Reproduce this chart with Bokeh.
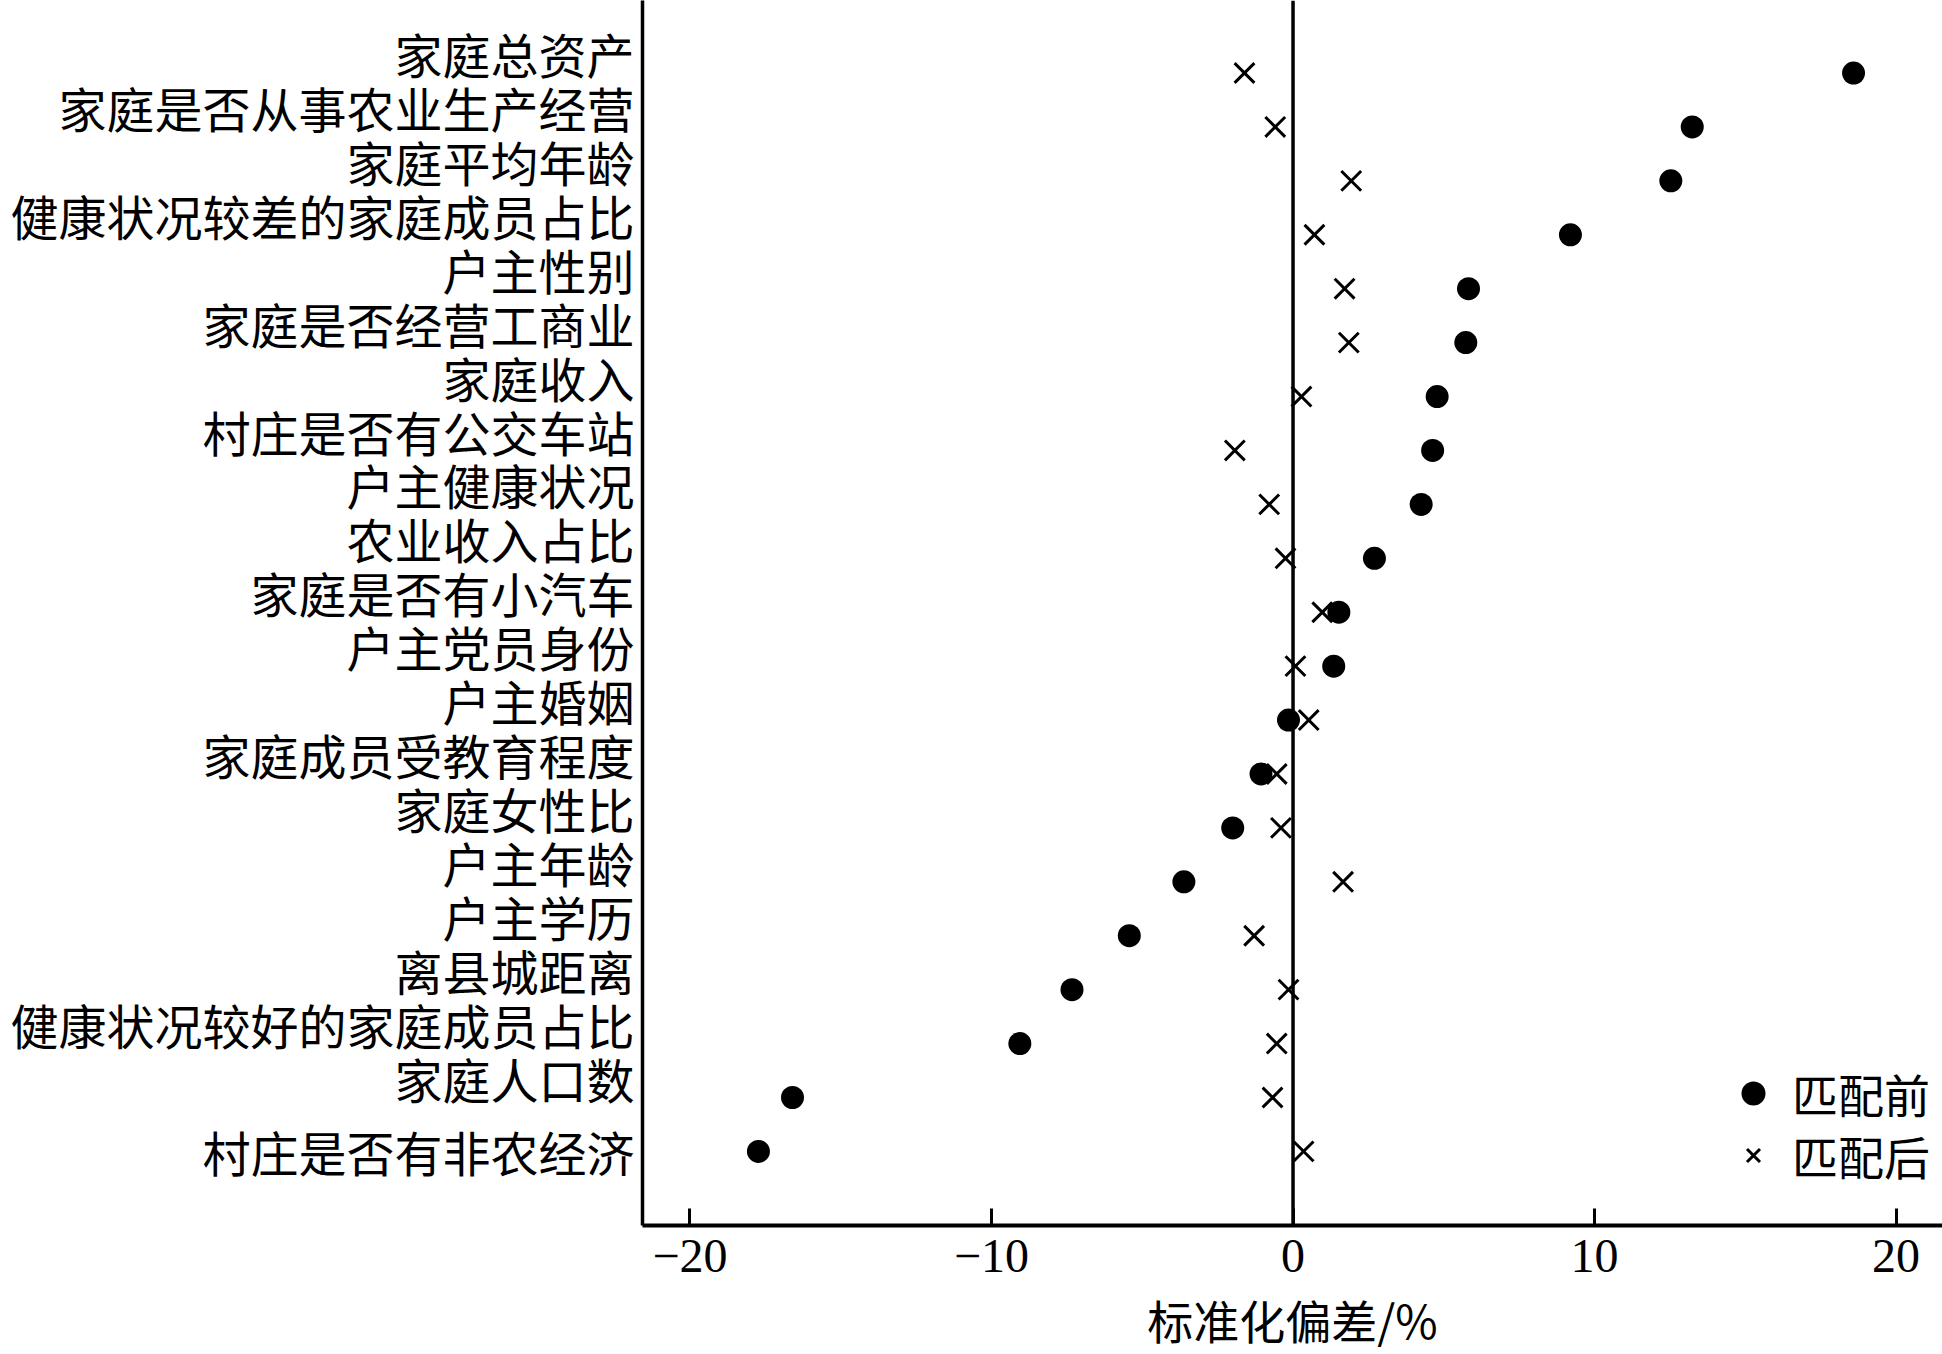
from bokeh.plotting import figure
from bokeh.models import (ColumnDataSource, Range1d, FixedTicker, Span, Legend,
                          LegendItem)
from bokeh.embed import file_html
from bokeh.resources import INLINE

# ---- data ----
labels = ["家庭总资产", "家庭是否从事农业生产经营", "家庭平均年龄", "健康状况较差的家庭成员占比",
          "户主性别", "家庭是否经营工商业", "家庭收入", "村庄是否有公交车站", "户主健康状况",
          "农业收入占比", "家庭是否有小汽车", "户主党员身份", "户主婚姻", "家庭成员受教育程度",
          "家庭女性比", "户主年龄", "户主学历", "离县城距离", "健康状况较好的家庭成员占比",
          "家庭人口数", "村庄是否有非农经济"]
before = [18.59, 13.24, 12.53, 9.20, 5.82, 5.73, 4.78, 4.63, 4.25, 2.70, 1.52,
          1.35, -0.15, -1.06, -2.00, -3.62, -5.43, -7.33, -9.06, -16.60, -17.73]
after = [-1.61, -0.59, 1.93, 0.71, 1.71, 1.85, 0.28, -1.93, -0.79, -0.25, 0.97,
         0.08, 0.52, -0.54, -0.40, 1.66, -1.29, -0.15, -0.54, -0.68, 0.35]
x_ticks = [-20, -10, 0, 10, 20]
x_tick_labels = ["−20", "−10", "0", "10", "20"]
series_names = ["匹配前", "匹配后"]
x_title = "标准化偏差/%"

n = len(labels)
ypos = [n - i for i in range(n)]
src = ColumnDataSource(dict(y=ypos, before=before, after=after, label=labels))

# in the reference, the category labels (except the last one) sit a little
# above their marker rows
label_shift = 0.37
label_pos = [round(y + (label_shift if i < n - 1 else 0.0), 3) for i, y in enumerate(ypos)]

CJK = "Noto Sans CJK SC"
SERIF = "Liberation Serif"

p = figure(width=1942, height=1354, output_backend="svg", toolbar_location=None,
           x_range=Range1d(-21.575, 21.54), y_range=Range1d(-0.374, 22.345),
           min_border_left=642, min_border_right=0, min_border_top=0,
           min_border_bottom=129, background_fill_color="white",
           border_fill_color="white")
p.outline_line_color = None
p.grid.visible = False

# zero reference line
p.add_layout(Span(location=0, dimension="height", line_color="black", line_width=3.5))

r_after = p.scatter("after", "y", source=src, marker="x", size=28,
                    line_color="black", line_width=3)
r_before = p.scatter("before", "y", source=src, marker="circle", size=23,
                     fill_color="black", line_color=None)

# x axis
xa = p.xaxis[0]
xa.ticker = FixedTicker(ticks=x_ticks)
xa.major_label_overrides = dict(zip(x_ticks, x_tick_labels))
xa.axis_line_width = 4
xa.axis_line_color = "black"
xa.major_tick_in = 17
xa.major_tick_out = 0
xa.major_tick_line_width = 3
xa.major_tick_line_color = "black"
xa.minor_tick_line_color = None
xa.major_label_text_font = SERIF
xa.major_label_text_font_size = "48px"
xa.major_label_text_color = "black"
xa.major_label_standoff = 14
xa.axis_label = x_title
xa.axis_label_text_font = CJK
xa.axis_label_text_font_size = "46px"
xa.axis_label_text_font_style = "normal"
xa.axis_label_text_color = "black"
xa.axis_label_standoff = 11

# y axis
ya = p.yaxis[0]
ya.ticker = FixedTicker(ticks=label_pos)
ya.major_label_overrides = dict(zip(label_pos, labels))
ya.axis_line_width = 3.5
ya.axis_line_color = "black"
ya.major_tick_line_color = None
ya.minor_tick_line_color = None
ya.major_tick_in = 0
ya.major_tick_out = 0
ya.major_label_text_font = CJK
ya.major_label_text_font_size = "48px"
ya.major_label_text_color = "black"
ya.major_label_standoff = 8

# legends
leg1 = Legend(items=[LegendItem(label=series_names[0], renderers=[r_before])],
              location=(1081, 97), glyph_width=60, glyph_height=70, label_height=70,
              label_standoff=9, padding=0, margin=0, border_line_color=None,
              background_fill_alpha=0, label_text_font=CJK,
              label_text_font_size="46px", label_text_color="black")
leg2 = Legend(items=[LegendItem(label=series_names[1], renderers=[r_after])],
              location=(1088, 35), glyph_width=46, glyph_height=70, label_height=70,
              label_standoff=16, padding=0, margin=0, border_line_color=None,
              background_fill_alpha=0, label_text_font=CJK,
              label_text_font_size="46px", label_text_color="black")
p.add_layout(leg1, "center")
p.add_layout(leg2, "center")

open("out.html", "w").write(file_html(p, INLINE))
